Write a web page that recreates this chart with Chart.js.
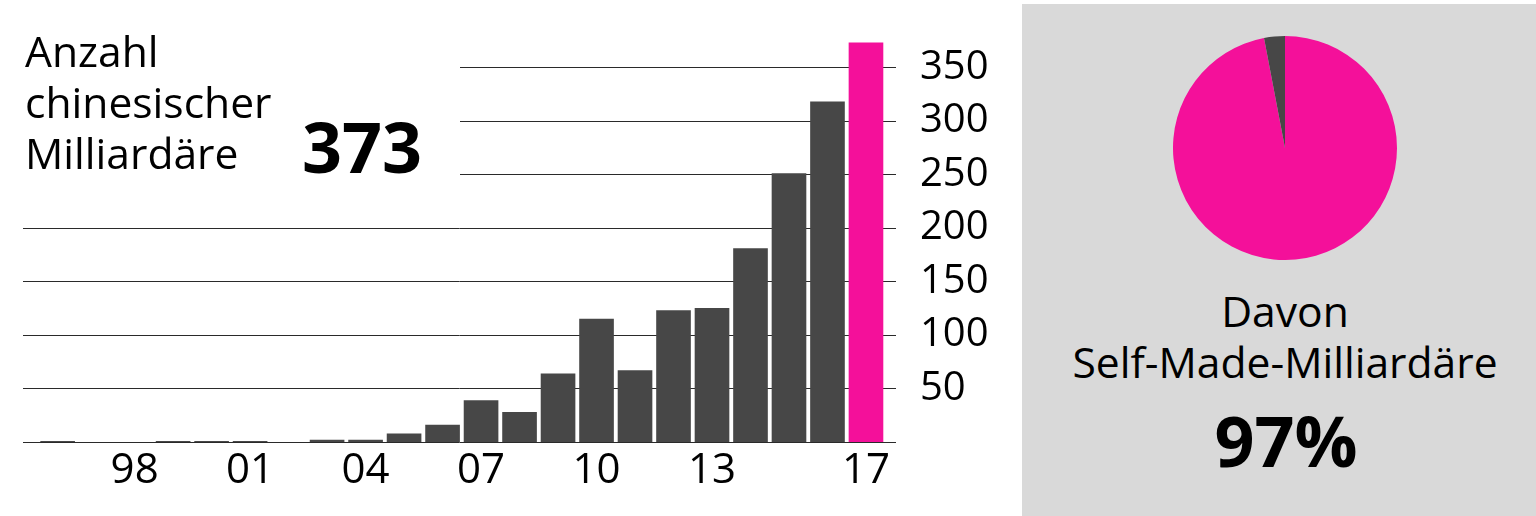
<!DOCTYPE html>
<html>
<head>
<meta charset="utf-8">
<script src="https://cdn.jsdelivr.net/npm/chart.js@4/dist/chart.umd.min.js"></script>
<style>
  html, body { margin:0; padding:0; background:#fff; width:1536px; height:516px; overflow:hidden; font-family:"Open Sans", sans-serif; color:#000; }
  #barWrap { position:absolute; left:0; top:0; width:1010px; height:516px; }
  #panel { position:absolute; left:1022px; top:4px; width:514px; height:512px; background:#d9d9d9; }
  #pieWrap { position:absolute; left:1173px; top:36px; width:224px; height:224px; }
  .title { position:absolute; left:25px; top:25px; font-size:42.6px; line-height:51px; white-space:nowrap; }
  .big { position:absolute; font-weight:700; font-size:70px; line-height:70px; white-space:nowrap; }
  .pieText { position:absolute; left:1035px; width:500px; text-align:center; font-size:42.6px; line-height:51px; top:285px; }
</style>
</head>
<body>
<div id="barWrap"><canvas id="bar" width="1010" height="516"></canvas></div>
<div id="panel"></div>
<div id="pieWrap"><canvas id="pie" width="224" height="224"></canvas></div>
<div class="title">Anzahl<br>chinesischer<br>Milliardäre</div>
<div class="big" style="left:302px; top:111px;">373</div>
<div class="pieText">Davon<br>Self-Made-Milliardäre</div>
<div class="big" style="left:1036px; width:500px; text-align:center; top:405px;">97%</div>
<script>
// ---- data ----
const years = [1996,1997,1998,1999,2000,2001,2002,2003,2004,2005,2006,2007,2008,2009,2010,2011,2012,2013,2014,2015,2016,2017];
const billionaires = [1,0,0,1,1,1,0,2,2,8,16,39,28,64,115,67,123,125,181,251,318,373];
const xTickYears = [1998,2001,2004,2007,2010,2013,2017];
const yTickValues = [0,50,100,150,200,250,300,350];
const pieLabels = ['Self-Made','Andere'];
const pieValues = [97,3];

const DARK = '#474747';
const PINK = '#f4109a';

const gridPlugin = {
  id:'customGrid',
  beforeDatasetsDraw(chart){
    const {ctx, chartArea, scales} = chart;
    const y = scales.y;
    ctx.save();
    ctx.strokeStyle = '#2a2a2a';
    ctx.lineWidth = 1;
    yTickValues.forEach(v => {
      const py = Math.round(y.getPixelForValue(v)) + 0.5;
      const startX = v >= 250 ? 460 : chartArea.left;
      ctx.beginPath();
      ctx.moveTo(startX, py);
      ctx.lineTo(chartArea.right, py);
      ctx.stroke();
    });
    ctx.restore();
  }
};

new Chart(document.getElementById('bar'), {
  type:'bar',
  data:{
    datasets:[{
      data: years.map((yr,i)=>({x:yr, y:billionaires[i]})),
      backgroundColor: years.map((yr,i)=> i===years.length-1 ? PINK : DARK),
      borderWidth:0,
      barPercentage:0.9,
      categoryPercentage:1.0
    }]
  },
  options:{
    responsive:false,
    animation:false,
    events:[],
    layout:{padding:{left:23, top:35, right:0, bottom:0}},
    plugins:{legend:{display:false}, tooltip:{enabled:false}},
    scales:{
      x:{
        type:'linear',
        min:1995.1,
        max:2017.78,
        offset:false,
        grid:{display:false, drawTicks:false},
        border:{display:false},
        afterBuildTicks:(s)=>{ s.ticks = xTickYears.map(v=>({value:v})); },
        afterFit:(s)=>{ s.height = 74; s.paddingLeft = 0; s.paddingRight = 0; },
        ticks:{
          autoSkip:false, maxRotation:0, padding:4, color:'#000',
          font:{family:'"Open Sans", sans-serif', size:42},
          callback:(v)=>String(v).slice(2)
        }
      },
      y:{
        position:'right',
        min:0,
        max:380,
        grid:{display:false, drawTicks:false},
        border:{display:false},
        afterBuildTicks:(s)=>{ s.ticks = yTickValues.map(v=>({value:v})); },
        afterFit:(s)=>{ s.width = 114; s.paddingTop = 0; s.paddingBottom = 0; },
        ticks:{
          padding:24, color:'#000',
          font:{family:'"Open Sans", sans-serif', size:40},
          callback:(v)=> v===0 ? '' : String(v)
        }
      }
    }
  },
  plugins:[gridPlugin]
});

new Chart(document.getElementById('pie'), {
  type:'pie',
  data:{
    labels: pieLabels,
    datasets:[{ data: pieValues, backgroundColor:[PINK, DARK], borderWidth:0, hoverOffset:0 }]
  },
  options:{
    responsive:false,
    animation:false,
    events:[],
    layout:{padding:0},
    plugins:{legend:{display:false}, tooltip:{enabled:false}}
  }
});
</script>
</body>
</html>
